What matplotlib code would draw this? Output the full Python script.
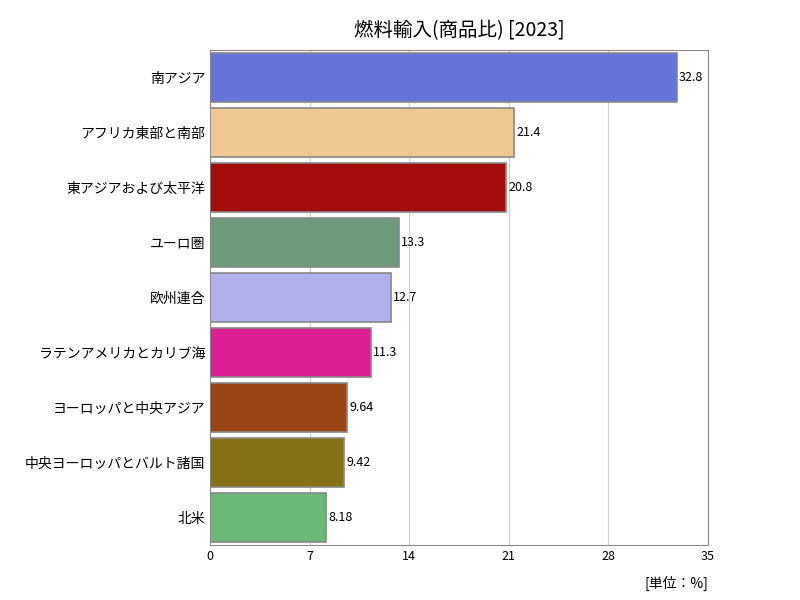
import matplotlib
matplotlib.use('Agg')
import matplotlib.pyplot as plt

plt.rcParams['font.family'] = 'Noto Sans CJK JP'

regions = ['南アジア', 'アフリカ東部と南部', '東アジアおよび太平洋', 'ユーロ圏', '欧州連合',
           'ラテンアメリカとカリブ海', 'ヨーロッパと中央アジア', '中央ヨーロッパとバルト諸国', '北米']
values = [32.8, 21.4, 20.8, 13.3, 12.7, 11.3, 9.64, 9.42, 8.18]
labels = ['32.8', '21.4', '20.8', '13.3', '12.7', '11.3', '9.64', '9.42', '8.18']
colors = ['#6674d9', '#eec792', '#a50d0d', '#6e9a7c', '#b0b0ea',
          '#dc2093', '#984414', '#877116', '#6cb877']
xticks = [0, 7, 14, 21, 28, 35]

fig = plt.figure(figsize=(8, 6), dpi=100)
ax = fig.add_axes([0.2625, 0.092, 0.6225, 0.825])

pos = list(range(len(regions)))
ax.barh(pos, values, height=0.88, color=colors, edgecolor='#888888', linewidth=1.2, zorder=3)
for p, v, t in zip(pos, values, labels):
    ax.text(v + 0.15, p, t, va='center', ha='left', fontsize=9, zorder=4)

ax.set_yticks(pos)
ax.set_yticklabels(regions, fontsize=10)
ax.set_ylim(len(regions) - 0.5, -0.5)
ax.set_xlim(0, 35)
ax.set_xticks(xticks)
ax.set_xticklabels([str(x) for x in xticks], fontsize=9)
ax.tick_params(length=0)
ax.grid(axis='x', color='#cccccc', zorder=0)
for s in ax.spines.values():
    s.set_color('#888888')

ax.set_title('燃料輸入(商品比) [2023]', fontsize=14, pad=10)
fig.text(0.885, 0.02, '[単位：%]', ha='right', fontsize=10)

fig.savefig('out.png')
